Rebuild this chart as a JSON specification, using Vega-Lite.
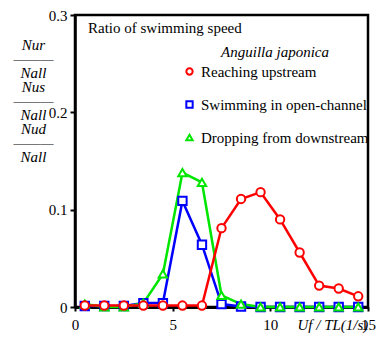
{
  "$schema": "https://vega.github.io/schema/vega-lite/v6.json",
  "autosize": {"type": "none"},
  "width": 293,
  "height": 292,
  "padding": {"left": 75, "top": 15, "right": 19, "bottom": 31},
  "background": "white",
  "config": {
    "font": "Times",
    "view": {"stroke": "black", "strokeWidth": 2.5}
  },
  "title": {
    "text": "Ratio of swimming speed",
    "anchor": "start",
    "frame": "group",
    "orient": "top",
    "offset": 0,
    "dx": 13,
    "dy": 28,
    "fontSize": 15,
    "fontWeight": "normal",
    "font": "Times",
    "color": "black"
  },
  "data": {
    "values": [
      {"x": 0.5, "y": 0.001, "s": "Swimming in open-channel"},
      {"x": 1.5, "y": 0.001, "s": "Swimming in open-channel"},
      {"x": 2.5, "y": 0.001, "s": "Swimming in open-channel"},
      {"x": 3.5, "y": 0.004, "s": "Swimming in open-channel"},
      {"x": 4.5, "y": 0.004, "s": "Swimming in open-channel"},
      {"x": 5.5, "y": 0.109, "s": "Swimming in open-channel"},
      {"x": 6.5, "y": 0.064, "s": "Swimming in open-channel"},
      {"x": 7.5, "y": 0.003, "s": "Swimming in open-channel"},
      {"x": 8.5, "y": 0.0005, "s": "Swimming in open-channel"},
      {"x": 9.5, "y": 0, "s": "Swimming in open-channel"},
      {"x": 10.5, "y": 0, "s": "Swimming in open-channel"},
      {"x": 11.5, "y": 0, "s": "Swimming in open-channel"},
      {"x": 12.5, "y": 0, "s": "Swimming in open-channel"},
      {"x": 13.5, "y": 0, "s": "Swimming in open-channel"},
      {"x": 14.5, "y": 0, "s": "Swimming in open-channel"},
      {"x": 0.5, "y": 0.003, "s": "Dropping from downstream"},
      {"x": 1.5, "y": 0, "s": "Dropping from downstream"},
      {"x": 2.5, "y": 0, "s": "Dropping from downstream"},
      {"x": 3.5, "y": 0.004, "s": "Dropping from downstream"},
      {"x": 4.5, "y": 0.034, "s": "Dropping from downstream"},
      {"x": 5.5, "y": 0.138, "s": "Dropping from downstream"},
      {"x": 6.5, "y": 0.128, "s": "Dropping from downstream"},
      {"x": 7.5, "y": 0.012, "s": "Dropping from downstream"},
      {"x": 8.5, "y": 0.003, "s": "Dropping from downstream"},
      {"x": 9.5, "y": 0, "s": "Dropping from downstream"},
      {"x": 10.5, "y": 0, "s": "Dropping from downstream"},
      {"x": 11.5, "y": 0, "s": "Dropping from downstream"},
      {"x": 12.5, "y": 0, "s": "Dropping from downstream"},
      {"x": 13.5, "y": 0, "s": "Dropping from downstream"},
      {"x": 14.5, "y": 0, "s": "Dropping from downstream"},
      {"x": 0.5, "y": 0.0015, "s": "Reaching upstream"},
      {"x": 1.5, "y": 0.0015, "s": "Reaching upstream"},
      {"x": 2.5, "y": 0.0015, "s": "Reaching upstream"},
      {"x": 3.5, "y": 0.0015, "s": "Reaching upstream"},
      {"x": 4.5, "y": 0.0015, "s": "Reaching upstream"},
      {"x": 5.5, "y": 0.0015, "s": "Reaching upstream"},
      {"x": 6.5, "y": 0.0015, "s": "Reaching upstream"},
      {"x": 7.5, "y": 0.081, "s": "Reaching upstream"},
      {"x": 8.5, "y": 0.111, "s": "Reaching upstream"},
      {"x": 9.5, "y": 0.118, "s": "Reaching upstream"},
      {"x": 10.5, "y": 0.090, "s": "Reaching upstream"},
      {"x": 11.5, "y": 0.056, "s": "Reaching upstream"},
      {"x": 12.5, "y": 0.022, "s": "Reaching upstream"},
      {"x": 13.5, "y": 0.019, "s": "Reaching upstream"},
      {"x": 14.5, "y": 0.011, "s": "Reaching upstream"}
    ]
  },
  "mark": {
    "type": "line",
    "strokeWidth": 2.5,
    "point": {"filled": false, "fill": "white", "fillOpacity": 1, "strokeWidth": 2, "size": 70, "opacity": 1}
  },
  "encoding": {
    "x": {
      "field": "x", "type": "quantitative",
      "scale": {"domain": [0, 15], "nice": false, "zero": false},
      "axis": {
        "values": [0, 5, 10, 15],
        "grid": false,
        "domainColor": "black", "domainWidth": 3,
        "tickColor": "black", "tickWidth": 2, "tickSize": 4,
        "labelFont": "Times", "labelFontSize": 15, "labelColor": "black",
        "labelPadding": 6, "labelFlush": false,
        "title": "Uf / TL(1/s)",
        "titleFont": "Times", "titleFontSize": 15, "titleFontStyle": "italic",
        "titleFontWeight": "normal", "titleColor": "black",
        "titleAnchor": "start", "titleAlign": "left", "titleBaseline": "top", "titleX": 222, "titleY": 10
      }
    },
    "y": {
      "field": "y", "type": "quantitative",
      "scale": {"domain": [0, 0.3], "nice": false},
      "axis": {
        "values": [0, 0.1, 0.2, 0.3],
        "labelExpr": "datum.value == 0 ? '0' : format(datum.value, '.1f')",
        "grid": false,
        "domainColor": "black", "domainWidth": 2.5,
        "tickColor": "black", "tickWidth": 2, "tickSize": 5,
        "labelFont": "Times", "labelFontSize": 15, "labelColor": "black",
        "labelPadding": 3, "labelFlush": false,
        "title": ["Nur", "———", "Nall", "Nus", "———", "Nall", "Nud", "———", "Nall"],
        "titleAngle": 0,
        "titleFont": "Times", "titleFontSize": 15, "titleFontStyle": "italic",
        "titleFontWeight": "normal", "titleColor": "black",
        "titleLineHeight": 14,
        "titleAlign": "center", "titleBaseline": "top",
        "titleX": -42, "titleY": 22
      }
    },
    "color": {
      "field": "s", "type": "nominal",
      "scale": {
        "domain": ["Reaching upstream", "Swimming in open-channel", "Dropping from downstream"],
        "range": ["#ff0000", "#0000ff", "#00e600"]
      },
      "legend": {
        "title": "Anguilla japonica",
        "titleFont": "Times", "titleFontSize": 15, "titleFontStyle": "italic",
        "titleFontWeight": "normal", "titleColor": "black", "titlePadding": 4,
        "labelFont": "Times", "labelFontSize": 15, "labelColor": "black",
        "labelLimit": 300,
        "orient": "none", "legendX": 107, "legendY": 30,
        "rowPadding": 17, "symbolSize": 40, "symbolStrokeWidth": 2,
        "symbolFillColor": "white", "labelOffset": 4, "titleAnchor": "middle"
      }
    },
    "shape": {
      "field": "s", "type": "nominal",
      "scale": {
        "domain": ["Reaching upstream", "Swimming in open-channel", "Dropping from downstream"],
        "range": ["circle", "square", "triangle-up"]
      }
    }
  }
}
